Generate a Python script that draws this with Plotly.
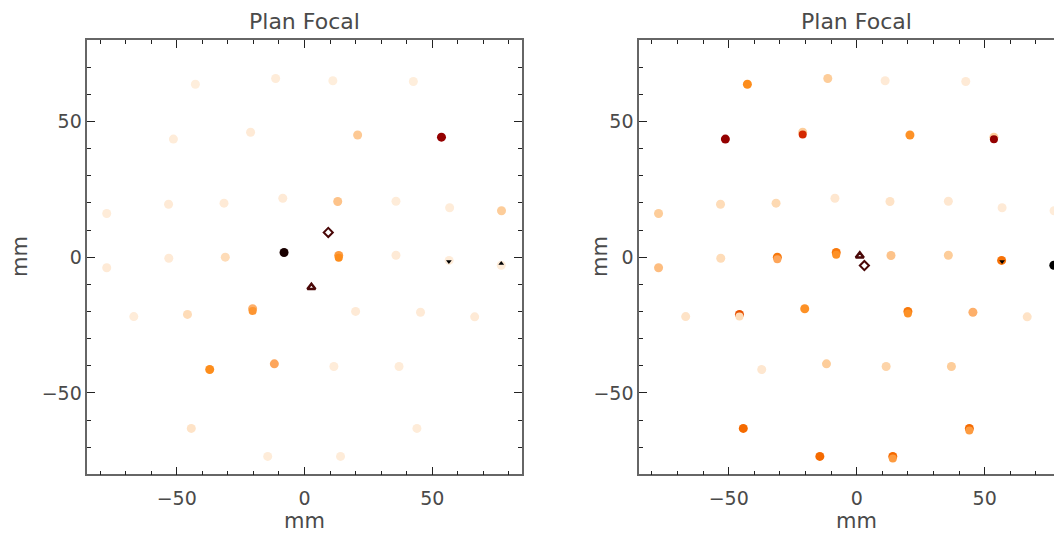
import plotly.graph_objects as go

# field positions on the focal plane (mm), same for both panels
x_pos = [-42.7, -11.3, 11.1, 42.6,
         -51.3, -21.1, 20.8, 53.6,
         -77.4, -53.2, -31.5, -8.5, 13.0, 35.8, 56.8, 77.1,
         -77.4, -53.1, -31.0, -8.0, 13.4, 35.8, 56.6, 77.0,
         -66.8, -45.8, -20.3, 20.0, 45.4, 66.6,
         -37.1, -11.8, 11.5, 37.0,
         -44.3, 44.0,
         -14.4, 14.1]
y_pos = [63.7, 65.8, 65.0, 64.7,
         43.5, 46.0, 45.0, 44.2,
         16.1, 19.5, 19.9, 21.7, 20.5, 20.6, 18.2, 17.1,
         -3.9, -0.4, 0.0, 1.7, 0.6, 0.7, -1.2, -3.0,
         -21.9, -21.1, -19.0, -20.0, -20.3, -22.0,
         -41.4, -39.3, -40.3, -40.3,
         -63.1, -63.1,
         -73.4, -73.4]

# colour level of each field (0 = pale, 1 = black)
left_level = [0.06, 0.08, 0.06, 0.06,
              0.08, 0.10, 0.32, 0.88,
              0.08, 0.10, 0.10, 0.10, 0.35, 0.08, 0.08, 0.30,
              0.10, 0.10, 0.20, 0.98, 0.55, 0.10, 0.08, 0.08,
              0.08, 0.20, 0.45, 0.10, 0.10, 0.10,
              0.62, 0.50, 0.08, 0.08,
              0.15, 0.08,
              0.08, 0.08]
right_level = [0.62, 0.30, 0.10, 0.10,
               0.88, 0.30, 0.60, 0.30,
               0.30, 0.20, 0.22, 0.12, 0.15, 0.12, 0.10, 0.08,
               0.38, 0.20, 0.68, 0.68, 0.35, 0.30, 0.70, 1.00,
               0.15, 0.75, 0.60, 0.68, 0.45, 0.15,
               0.12, 0.30, 0.25, 0.30,
               0.72, 0.72,
               0.72, 0.72]

# fields whose lower half has another level
left_split_idx = [20, 26]
left_split_level = [0.62, 0.58]
right_split_idx = [5, 7, 18, 19, 25, 27, 35, 37]
right_split_level = [0.80, 0.88, 0.50, 0.60, 0.20, 0.60, 0.55, 0.55]

# special objects: triangle, diamond, small marks
left_tri = ([2.7], [-11.1])
left_dia = ([9.3], [9.1])
right_tri = ([1.2], [0.5])
right_dia = ([3.0], [-3.1])
left_down = ([56.5], [-1.6])
left_up = ([77.0], [-2.3])
right_down = ([56.8], [-1.6])
right_up = ([76.9], [-2.6])

scale = [[0.0, '#fff3e6'], [0.1, '#feead6'], [0.3, '#fdcd9a'],
         [0.5, '#fda55a'], [0.62, '#fd8d1c'], [0.72, '#f56a00'],
         [0.8, '#d42800'], [0.88, '#940000'], [1.0, '#000000']]

OFF = 8  # page body margin
W, H = 1062 - OFF, 533 - OFF
TXT = '#4a4a4a'
FONT = 'DejaVu Sans'


def px(v):
    return (v - OFF) / W


def py(v):
    return 1 - (v - OFF) / H


fig = go.Figure()


def add_panel(n, level, split_idx, split_level, tri, dia, down, up):
    xa, ya = ('x', 'y') if n == 1 else ('x2', 'y2')
    fig.add_trace(go.Scatter(
        x=x_pos, y=y_pos, mode='markers', xaxis=xa, yaxis=ya,
        marker=dict(size=9, color=level, colorscale=scale, cmin=0, cmax=1,
                    line=dict(width=0)),
        showlegend=False))
    fig.add_trace(go.Scatter(
        x=[x_pos[i] for i in split_idx],
        y=[y_pos[i] - 0.8 for i in split_idx],
        mode='markers', xaxis=xa, yaxis=ya,
        marker=dict(size=8, color=split_level, colorscale=scale, cmin=0, cmax=1,
                    line=dict(width=0)),
        showlegend=False))
    fig.add_trace(go.Scatter(
        x=tri[0], y=tri[1], mode='markers', xaxis=xa, yaxis=ya,
        marker=dict(symbol='triangle-up-open', size=7, color='#4a0808',
                    line=dict(width=2.5, color='#4a0808')),
        showlegend=False))
    fig.add_trace(go.Scatter(
        x=dia[0], y=dia[1], mode='markers', xaxis=xa, yaxis=ya,
        marker=dict(symbol='diamond-open', size=7, color='#4a0808',
                    line=dict(width=2, color='#4a0808')),
        showlegend=False))
    fig.add_trace(go.Scatter(
        x=down[0], y=down[1], mode='markers', xaxis=xa, yaxis=ya,
        marker=dict(symbol='triangle-down', size=5, color='black'),
        showlegend=False))
    fig.add_trace(go.Scatter(
        x=up[0], y=up[1], mode='markers', xaxis=xa, yaxis=ya,
        marker=dict(symbol='triangle-up', size=5, color='black'),
        showlegend=False))


add_panel(1, left_level, left_split_idx, left_split_level,
          left_tri, left_dia, left_down, left_up)
add_panel(2, right_level, right_split_idx, right_split_level,
          right_tri, right_dia, right_down, right_up)

axis_common = dict(
    showline=True, linecolor='#666666', linewidth=1.5,
    ticks='inside', ticklen=8, tickwidth=1, tickcolor='#222222',
    tick0=0, dtick=50, showgrid=False, zeroline=False,
    minor=dict(dtick=10, ticklen=4, ticks='inside', tickcolor='#222222',
               tickwidth=1, showgrid=False),
    tickfont=dict(family=FONT, size=19, color=TXT),
)

y_dom = [py(474.3), py(40)]

fig.update_layout(
    width=W, height=H,
    margin=dict(l=0, r=0, t=0, b=0),
    paper_bgcolor='white', plot_bgcolor='white',
    xaxis=dict(domain=[px(87.3), px(521.7)], range=[-85, 85], anchor='y',
               mirror='ticks', ticklabelstandoff=6, **axis_common),
    yaxis=dict(domain=y_dom, range=[-80, 80], anchor='x',
               mirror='ticks', ticklabelstandoff=0, **axis_common),
    xaxis2=dict(domain=[px(639.1), 1.0], range=[-85, (1062 - 856.7) / 2.56],
                anchor='y2', mirror='ticks', ticklabelstandoff=6, **axis_common),
    yaxis2=dict(domain=y_dom, range=[-80, 80], anchor='x2',
                mirror=False, ticklabelstandoff=0, **axis_common),
)

ann_font = dict(family=FONT, size=21, color=TXT)
for xr, ylab_x in [('x', 20), ('x2', 600)]:
    fig.add_annotation(text='Plan Focal', xref=xr, x=0, yref='paper',
                       y=py(21.5), xanchor='center', yanchor='middle',
                       showarrow=False,
                       font=dict(family=FONT, size=22, color=TXT))
    fig.add_annotation(text='mm', xref=xr, x=0, yref='paper',
                       y=py(521), xanchor='center', yanchor='middle',
                       showarrow=False, font=ann_font)
    fig.add_annotation(text='mm', xref='paper', x=px(ylab_x), yref='paper',
                       y=py(257), xanchor='center', yanchor='middle',
                       showarrow=False, textangle=-90, font=ann_font)

fig.write_html("out.html")
